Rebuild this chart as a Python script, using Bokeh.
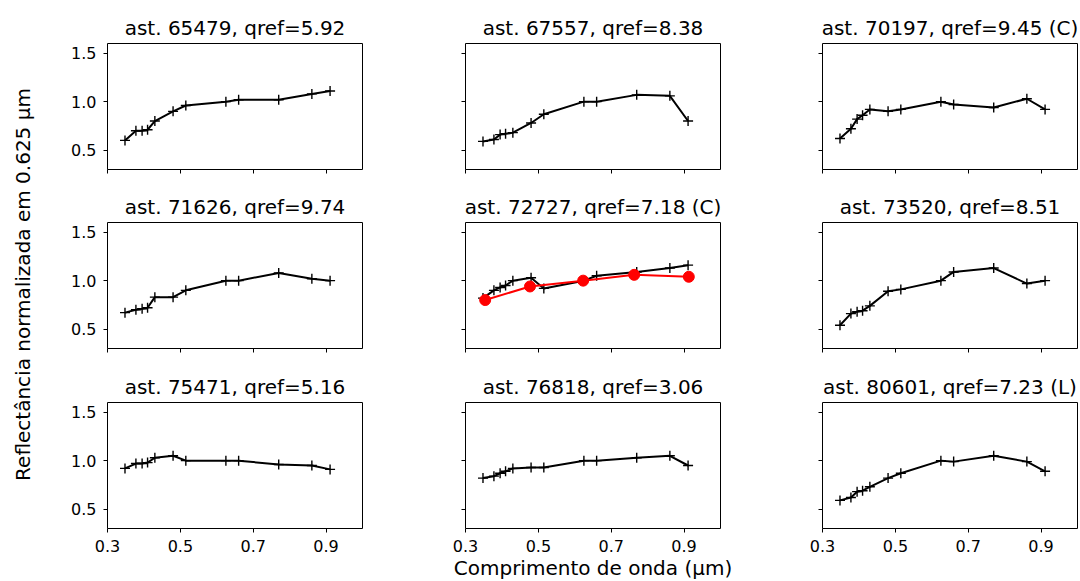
import math
from bokeh.plotting import figure
from bokeh.layouts import column, row
from bokeh.models import Range1d, FixedTicker, Label
from bokeh.embed import file_html
from bokeh.resources import INLINE

# S-PLUS filter wavelengths (micrometres)
wavelength = [0.348, 0.378, 0.395, 0.410, 0.430, 0.480, 0.515, 0.625, 0.660, 0.770, 0.861, 0.911]
# SDSS wavelengths for comparison spectrum
sdss_wavelength = [0.354, 0.477, 0.623, 0.763, 0.913]

titles = [
    "ast. 65479, qref=5.92", "ast. 67557, qref=8.38", "ast. 70197, qref=9.45 (C)",
    "ast. 71626, qref=9.74", "ast. 72727, qref=7.18 (C)", "ast. 73520, qref=8.51",
    "ast. 75471, qref=5.16", "ast. 76818, qref=3.06", "ast. 80601, qref=7.23 (L)",
]

refl_65479 = [0.60, 0.70, 0.70, 0.71, 0.80, 0.90, 0.96, 1.00, 1.02, 1.02, 1.08, 1.11]
refl_67557 = [0.59, 0.61, 0.66, 0.67, 0.68, 0.78, 0.87, 1.00, 1.00, 1.07, 1.06, 0.80]
refl_70197 = [0.62, 0.72, 0.82, 0.86, 0.92, 0.90, 0.92, 1.00, 0.97, 0.94, 1.03, 0.92]
refl_71626 = [0.67, 0.70, 0.71, 0.72, 0.83, 0.83, 0.90, 1.00, 1.00, 1.08, 1.02, 1.00]
refl_72727 = [0.82, 0.90, 0.93, 0.95, 1.00, 1.03, 0.92, 1.00, 1.05, 1.09, 1.13, 1.16]
refl_73520 = [0.54, 0.66, 0.68, 0.69, 0.74, 0.89, 0.91, 1.00, 1.09, 1.13, 0.97, 1.00]
refl_75471 = [0.92, 0.97, 0.97, 0.98, 1.03, 1.05, 1.00, 1.00, 1.00, 0.96, 0.95, 0.91]
refl_76818 = [0.82, 0.84, 0.87, 0.89, 0.92, 0.93, 0.93, 1.00, 1.00, 1.03, 1.05, 0.95]
refl_80601 = [0.59, 0.62, 0.68, 0.69, 0.73, 0.82, 0.87, 1.00, 0.99, 1.05, 0.99, 0.89]
sdss_72727 = [0.80, 0.94, 1.00, 1.06, 1.04]

spectra = [refl_65479, refl_67557, refl_70197, refl_71626, refl_72727,
           refl_73520, refl_75471, refl_76818, refl_80601]

x_ticks = [0.3, 0.5, 0.7, 0.9]
x_tick_labels = ["0.3", "0.5", "0.7", "0.9"]
y_ticks = [0.5, 1.0, 1.5]
y_tick_labels = ["0.5", "1.0", "1.5"]

y_label = "Reflectância normalizada em 0.625 μm"
x_label = "Comprimento de onda (μm)"

FONT = "DejaVu Sans"
LABEL_W = 40
col_borders = [(107 - LABEL_W, 40), (63, 40), (62, 3)]
row_borders = [(43, 20), (32, 21), (32, 55)]

# left strip carrying the shared y-axis label
lab = figure(frame_width=LABEL_W, frame_height=581, min_border_left=0, min_border_right=0,
             min_border_top=0, min_border_bottom=0,
             x_range=Range1d(0, LABEL_W), y_range=Range1d(0, 581),
             output_backend="svg", toolbar_location=None)
lab.axis.visible = False
lab.xgrid.visible = False
lab.ygrid.visible = False
lab.outline_line_color = None
lab.add_layout(Label(x=22, y=581 - 284, text=y_label, angle=math.pi / 2,
                     text_align="center", text_baseline="middle",
                     text_font=FONT, text_font_size="20px", text_color="black"))

figs = []
for i in range(9):
    r, c = divmod(i, 3)
    p = figure(frame_width=255, frame_height=126,
               min_border_left=col_borders[c][0], min_border_right=col_borders[c][1],
               min_border_top=row_borders[r][0], min_border_bottom=row_borders[r][1],
               x_range=Range1d(0.3, 1.0), y_range=Range1d(0.3, 1.6),
               output_backend="svg", toolbar_location=None, title=titles[i])
    p.title.text_font = FONT
    p.title.text_font_size = "20px"
    p.title.text_font_style = "normal"
    p.title.align = "center"
    p.title.text_color = "black"
    p.title.standoff = 7
    p.outline_line_color = "black"
    p.outline_line_width = 1
    p.xgrid.visible = False
    p.ygrid.visible = False
    p.background_fill_color = "white"
    p.border_fill_color = "white"
    for ax in (p.xaxis[0], p.yaxis[0]):
        ax.axis_line_color = None
        ax.major_tick_out = 4
        ax.major_tick_in = 0
        ax.minor_tick_out = 0
        ax.minor_tick_in = 0
        ax.major_tick_line_color = "black"
        ax.major_tick_line_width = 1
        ax.major_label_text_font = FONT
        ax.major_label_text_font_size = "16px"
        ax.major_label_text_color = "black"
        ax.major_label_standoff = 7
        ax.axis_label_text_font = FONT
        ax.axis_label_text_font_size = "20px"
        ax.axis_label_text_font_style = "normal"
        ax.axis_label_text_color = "black"
    p.xaxis[0].ticker = FixedTicker(ticks=x_ticks)
    p.yaxis[0].ticker = FixedTicker(ticks=y_ticks)
    if r == 2:
        p.xaxis[0].major_label_overrides = dict(zip(x_ticks, x_tick_labels))
    else:
        p.xaxis[0].major_label_overrides = {t: "" for t in x_ticks}
    if c == 0:
        p.yaxis[0].major_label_overrides = dict(zip(y_ticks, y_tick_labels))
    else:
        p.yaxis[0].major_label_overrides = {t: "" for t in y_ticks}
    if i == 7:
        p.xaxis[0].axis_label = x_label
        p.xaxis[0].axis_label_standoff = 1

    p.line(wavelength, spectra[i], line_color="black", line_width=2)
    p.scatter(wavelength, spectra[i], marker="cross", size=10,
              line_color="black", line_width=1.4)
    if i == 4:
        p.line(sdss_wavelength, sdss_72727, line_color="red", line_width=2)
        p.scatter(sdss_wavelength, sdss_72727, marker="circle", size=11,
                  fill_color="red", line_color="red")
    figs.append(p)

grid = column(row(*figs[0:3]), row(*figs[3:6]), row(*figs[6:9]))
layout = row(lab, grid)

open("out.html", "w").write(file_html(layout, INLINE))
